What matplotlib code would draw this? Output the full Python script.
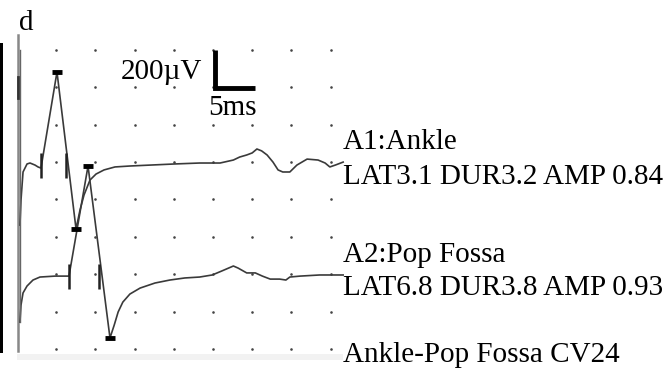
import numpy as np
import matplotlib
matplotlib.use("Agg")
import matplotlib.pyplot as plt
from matplotlib.patches import Rectangle

# trace A1: Ankle (time in ms, amplitude in uV)
a1_t = [0.38, 0.51, 0.77, 1.28, 1.66, 2.30, 2.68, 3.06, 5.10, 7.53, 8.04, 8.55, 9.31,
        10.08, 11.1, 12.5, 14.4, 17.0, 20.15, 23.3, 25.9, 27.6, 28.4, 29.3, 30.0, 30.6,
        31.2, 31.9, 32.65, 33.3, 33.9, 34.8, 35.7, 37.0, 38.4, 39.3, 39.9, 40.6, 41.6]
a1_v = [663, 797, 947, 990, 995, 984, 974, 968, 1482, 642, 744, 824, 904,
        936, 958, 974, 979, 984, 990, 995, 995, 1011, 1027, 1038, 1049, 1070,
        1060, 1038, 1000, 958, 947, 947, 984, 1016, 1011, 995, 974, 984, 1000]

# trace A2: Pop Fossa
a2_t = [0.38, 0.51, 0.77, 1.28, 2.04, 2.93, 4.85, 6.63, 9.06, 11.86, 12.4, 12.9, 13.5,
        14.4, 15.7, 17.6, 19.5, 21.4, 23.3, 24.9, 26.1, 27.6, 28.2, 29.3, 30.4, 31.3,
        32.3, 33.5, 34.3, 34.8, 36.1, 38.6, 41.6]
a2_v = [144, 235, 300, 337, 369, 385, 390, 390, 979, 59, 128, 198, 251,
        294, 326, 353, 369, 380, 385, 396, 417, 444, 433, 407, 407, 390,
        374, 374, 369, 385, 390, 396, 396]

# peak / trough cursors
a1_peaks = ([5.10, 7.53], [1482, 642])
a2_peaks = ([9.06, 11.86], [979, 59])
# onset / end cursors (latency, latency + duration) at baseline
a1_marks = ([3.06, 6.3], [987, 987])
a2_marks = ([6.63, 10.46], [393, 393])

labels = ["A1:Ankle", "LAT3.1 DUR3.2 AMP 0.84", "A2:Pop Fossa",
          "LAT6.8 DUR3.8 AMP 0.93", "Ankle-Pop Fossa CV24"]

W, H = 671, 375
MS = 7.84      # px per ms
UV = 1 / 5.35  # px per uV
X0, Y0 = 17, 349

plt.rcParams['font.family'] = ['Liberation Serif', 'DejaVu Serif']

fig = plt.figure(figsize=(W / 100, H / 100), dpi=100)
ax = fig.add_axes([0, 0, 1, 1])
ax.set_xlim(-X0 / MS, (W - X0) / MS)
ax.set_ylim(-(H - Y0) / UV, Y0 / UV)
ax.axis('off')

# paper edges
ax.add_patch(Rectangle((-X0 / MS, -4 / UV), 3.5 / MS, 310 / UV, color='black', lw=0))
ax.add_patch(Rectangle((0, -11 / UV), 41.6, 6 / UV, color='#f2f2f2', lw=0))
ax.plot([0.15, 0.15], [-2 / UV, 314 / UV], color='#888888', lw=1.8)
ax.plot([0.15, 0.15], [251 / UV, 272 / UV], color='#333333', lw=2)

# grid dots, 5 ms x 200 uV
gx, gy = np.meshgrid(np.arange(5, 41, 5), np.arange(0, 1601, 200))
ax.scatter(gx.ravel(), gy.ravel(), s=3.5, color='#444444', lw=0)

# traces
for t, v in [(a1_t, a1_v), (a2_t, a2_v)]:
    ax.plot(t, v, color='#3a3a3a', lw=1.2)
ax.plot([0.4, 0.4], [144, 1600], color='#666666', lw=1.0)
for px, pv in [a1_peaks, a2_peaks]:
    ax.plot(px, pv, ls='none', marker='_', ms=7, mew=3.5, color='black')
for px, pv in [a1_marks, a2_marks]:
    ax.plot(px, pv, ls='none', marker='|', ms=18, mew=1.8, color='#222222')

# scale bar 200 uV / 5 ms
ax.plot([25.2, 25.2, 30.4], [1600, 1398, 1398], color='black', lw=3.5,
        solid_joinstyle='miter', solid_capstyle='butt')

def fx(x):
    return x / W

def fy(y):
    return 1 - y / H

fs = 21
fig.text(fx(121), fy(79), "200\u00b5V", fontsize=fs, va='baseline')
fig.text(fx(208), fy(115), "5ms", fontsize=fs, va='baseline')
fig.text(fx(19), fy(30), "d", fontsize=fs, va='baseline')
for lab, y in zip(labels, [149, 184, 262, 295, 362]):
    fig.text(fx(343), fy(y), lab, fontsize=fs, va='baseline')

fig.savefig("out.png", dpi=100)
